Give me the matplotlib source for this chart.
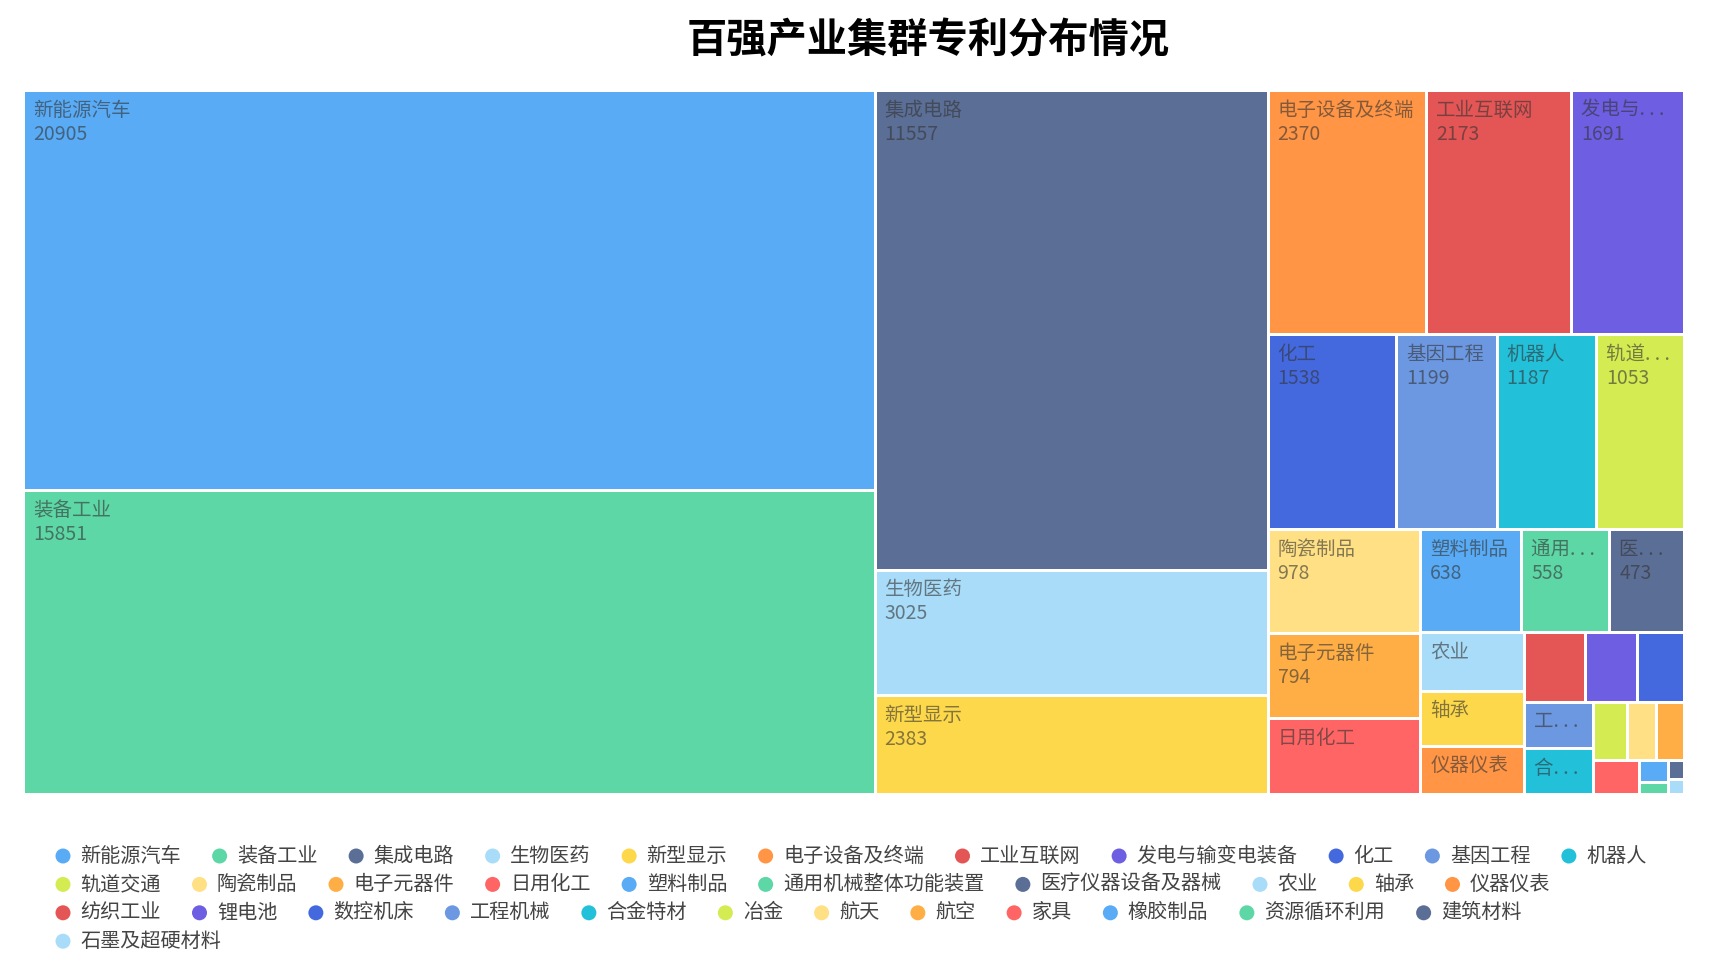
import math
import matplotlib
matplotlib.use("Agg")
import matplotlib.pyplot as plt
from matplotlib.patches import Rectangle, Circle
from matplotlib.font_manager import FontProperties

plt.rcParams["font.family"] = ["Noto Sans CJK SC", "DejaVu Sans"]

# ---------------- data ----------------
title = "百强产业集群专利分布情况"
names = [
    "新能源汽车", "装备工业", "集成电路", "生物医药", "新型显示", "电子设备及终端",
    "工业互联网", "发电与输变电装备", "化工", "基因工程", "机器人", "轨道交通",
    "陶瓷制品", "电子元器件", "日用化工", "塑料制品", "通用机械整体功能装置",
    "医疗仪器设备及器械", "农业", "轴承", "仪器仪表", "纺织工业", "锂电池",
    "数控机床", "工程机械", "合金特材", "冶金", "航天", "航空", "家具",
    "橡胶制品", "资源循环利用", "建筑材料", "石墨及超硬材料",
]
values = [
    20905, 15851, 11557, 3025, 2383, 2370,
    2173, 1691, 1538, 1199, 1187, 1053,
    978, 794, 710, 638, 558,
    473, 370, 350, 305, 260, 221,
    200, 197, 192, 122, 106, 100, 97,
    38, 22, 18, 15,
]
palette = [
    "#59ABF5", "#5ED7A6", "#5B6E96", "#A9DCF8", "#FDD84A", "#FF9545",
    "#E45555", "#6D5EE2", "#4469DE", "#6C98E1", "#23C0D9", "#D4EB52",
    "#FFE085", "#FFAE45", "#FF6565",
]

# ---------------- figure ----------------
W_PX, H_PX = 1727, 966
fig = plt.figure(figsize=(W_PX / 100, H_PX / 100), dpi=100)
fig.patch.set_facecolor("white")
ax = fig.add_axes([0, 0, 1, 1])
ax.set_xlim(0, W_PX)
ax.set_ylim(H_PX, 0)
ax.axis("off")
renderer = fig.canvas.get_renderer()


def text_w(s, size, weight="normal"):
    fp = FontProperties(family=["Noto Sans CJK SC", "DejaVu Sans"], size=size, weight=weight)
    w, h, d = renderer.get_text_width_height_descent(s, fp, ismath=False)
    return w


# ---------------- squarified treemap (ECharts style) ----------------
SQUARE_RATIO = 0.5 * (1 + math.sqrt(5))


def squarify(vals, x, y, w, h, ratio):
    total = float(sum(vals))
    areas = [v / total * w * h for v in vals]
    rect = {"x": x, "y": y, "w": w, "h": h}
    out = [None] * len(vals)

    def worst(row, row_area, fixed):
        amax = max(areas[i] for i in row)
        amin = min(areas[i] for i in row)
        sq = row_area * row_area
        f = fixed * fixed * ratio
        return max(f * amax / sq, sq / (f * amin)) if sq else math.inf

    def position(row, row_area, fixed, flush):
        along_x = fixed == rect["w"]
        if along_x:
            last = rect["x"]
            other = row_area / fixed if fixed else 0
            if flush or other > rect["h"]:
                other = rect["h"]
            for k, idx in enumerate(row):
                step = areas[idx] / other if other else 0
                remain = rect["x"] + rect["w"] - last
                mod = remain if (k == len(row) - 1 or remain < step) else step
                out[idx] = (last, rect["y"], mod, other)
                last += mod
            rect["y"] += other
            rect["h"] -= other
        else:
            last = rect["y"]
            other = row_area / fixed if fixed else 0
            if flush or other > rect["w"]:
                other = rect["w"]
            for k, idx in enumerate(row):
                step = areas[idx] / other if other else 0
                remain = rect["y"] + rect["h"] - last
                mod = remain if (k == len(row) - 1 or remain < step) else step
                out[idx] = (rect["x"], last, other, mod)
                last += mod
            rect["x"] += other
            rect["w"] -= other

    fixed = min(w, h)
    best = math.inf
    row, row_area = [], 0.0
    i = 0
    while i < len(vals):
        row.append(i)
        row_area += areas[i]
        score = worst(row, row_area, fixed)
        if score <= best:
            i += 1
            best = score
        else:
            row.pop()
            row_area -= areas[i]
            position(row, row_area, fixed, False)
            fixed = min(rect["w"], rect["h"])
            row, row_area, best = [], 0.0, math.inf
    if row:
        position(row, row_area, fixed, True)
    return out


GAP = 3.0
TM_X, TM_Y, TM_W, TM_H = 23.5, 90.5, 1661.0, 704.0
cells = squarify(values, TM_X, TM_Y, TM_W, TM_H, SQUARE_RATIO)

LABEL_SIZE = 14
PAD = 8
ELLIPSIS = ". . ."
label_color = (0.2, 0.2, 0.2, 0.6)

for i, (cx, cy, cw, ch) in enumerate(cells):
    x0, y0 = cx + GAP / 2, cy + GAP / 2
    w, h = cw - GAP, ch - GAP
    ax.add_patch(Rectangle((x0, y0), w, h, facecolor=palette[i % len(palette)],
                           edgecolor="none", linewidth=0))
    # label
    avail = w - 2 * PAD - 1
    name = names[i]
    if h < 40 or avail <= 0:
        continue
    if text_w(name, LABEL_SIZE) > avail:
        ell_w = text_w(ELLIPSIS, LABEL_SIZE)
        n = len(name)
        while n > 0 and text_w(name[:n], LABEL_SIZE) + ell_w > avail:
            n -= 1
        if n == 0:
            continue
        name = name[:n] + ELLIPSIS
    ax.text(x0 + PAD, y0 + 18, name, fontsize=LABEL_SIZE, color=label_color,
            ha="left", va="center")
    if h >= 75:
        ax.text(x0 + PAD, y0 + 42, str(values[i]), fontsize=LABEL_SIZE,
                color=label_color, ha="left", va="center")

# ---------------- title ----------------
ax.text(928, 41, title, fontsize=29, fontweight="bold", color="black",
        ha="center", va="center")

# ---------------- legend ----------------
LEG_SIZE = 14.5
LX0, LMAX, LY0, LSTEP = 55.5, 1672, 856, 28.4
R = 7.5
lx, lrow = LX0, 0
for i, name in enumerate(names):
    tw = text_w(name, LEG_SIZE)
    item_w = 25 + tw
    if lx > LX0 and lx + item_w > LMAX:
        lrow += 1
        lx = LX0
    ly = LY0 + lrow * LSTEP
    ax.add_patch(Circle((lx + R, ly), R, facecolor=palette[i % len(palette)],
                        edgecolor="none"))
    ax.text(lx + 25, ly, name, fontsize=LEG_SIZE, color="#444444",
            ha="left", va="center")
    lx += item_w + 31

fig.savefig("out.png", dpi=100, facecolor="white")
